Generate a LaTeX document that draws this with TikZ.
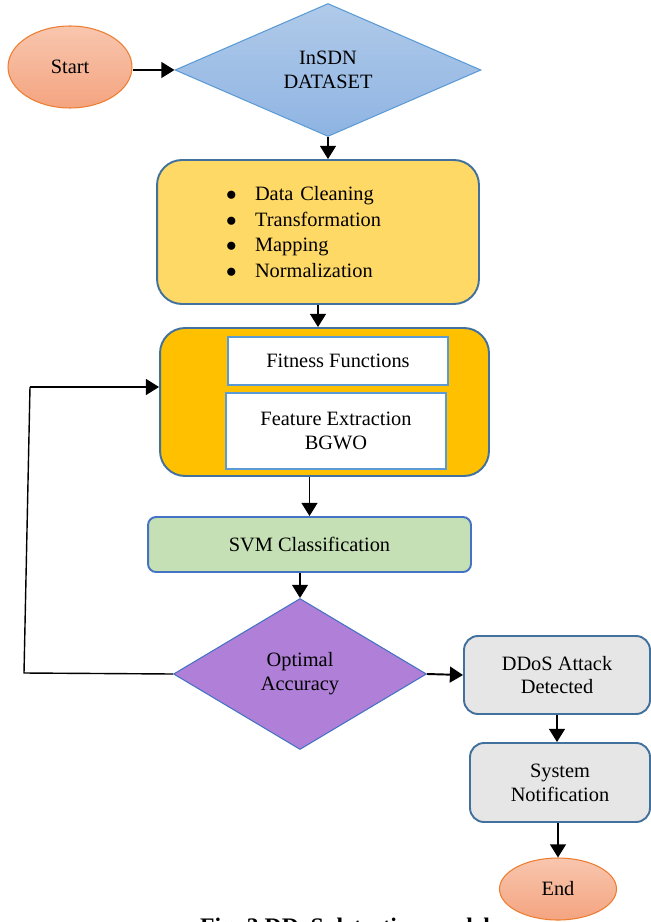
\documentclass[tikz,border=0pt]{standalone}
\usepackage{fontspec}
\setmainfont{Liberation Serif}
\usetikzlibrary{arrows.meta,shapes.geometric}
\definecolor{ddorange}{RGB}{237,125,49}
\definecolor{ddpeachtop}{RGB}{248,198,174}
\definecolor{ddpeachbot}{RGB}{244,164,128}
\definecolor{ddbluetop}{RGB}{176,202,233}
\definecolor{ddbluebot}{RGB}{143,180,227}
\definecolor{ddblueline}{RGB}{91,155,213}
\definecolor{ddframe}{RGB}{65,113,156}
\definecolor{ddyellow}{RGB}{255,217,102}
\definecolor{ddamber}{RGB}{255,192,0}
\definecolor{ddgreen}{RGB}{197,224,180}
\definecolor{ddroyal}{RGB}{68,114,196}
\definecolor{ddpurple}{RGB}{176,127,216}
\definecolor{ddgray}{RGB}{231,230,230}
\newcommand{\ddbul}{\hspace*{0.96cm}\makebox[0.58cm][l]{$\bullet$}}

\begin{document}
\begin{tikzpicture}[x=0.02cm, y=-0.02cm,
  font=\fontsize{11.6}{13.6}\selectfont,
  term/.style={ellipse, draw=ddorange, line width=0.6pt, top color=ddpeachtop, bottom color=ddpeachbot},
  decision/.style={diamond, line width=0.6pt, inner sep=0pt, align=center},
  procbox/.style={rectangle, draw=ddframe, line width=1.1pt, inner sep=0pt, align=center},
  innerbox/.style={rectangle, draw=ddblueline, line width=1.1pt, fill=white, inner sep=0pt, align=center},
  flow/.style={-{Triangle[length=7.5pt,width=9pt]}, line width=1.1pt},
]
\useasboundingbox (0,0) rectangle (650,922);
% Start and dataset
\node[term, minimum width=2.48cm, minimum height=1.64cm] (start) at (70,67) {Start};
\node[decision, draw=ddblueline, top color=ddbluetop, bottom color=ddbluebot,
      minimum width=6.12cm, minimum height=2.66cm] (data) at (328,70) {InSDN\\DATASET};
% Preprocessing
\node[procbox, fill=ddyellow, rounded corners=0.5cm, minimum width=6.44cm, minimum height=2.88cm,
      font=\fontsize{11.6}{14.7}\selectfont, text width=5.6cm, align=left] (prep) at (318,232)
  {\ddbul Data Cleaning\\
   \ddbul Transformation\\
   \ddbul Mapping\\
   \ddbul Normalization};
% Feature selection block
\node[procbox, fill=ddamber, rounded corners=0.5cm, minimum width=6.58cm, minimum height=2.96cm] (feat) at (324.5,402) {};
\node[innerbox, minimum width=4.4cm, minimum height=0.96cm] (fit) at (338,361) {Fitness Functions};
\node[innerbox, minimum width=4.4cm, minimum height=1.52cm] (bgwo) at (336,431) {Feature Extraction\\BGWO};
% Classification and decision
\node[procbox, draw=ddroyal, fill=ddgreen, rounded corners=0.16cm, minimum width=6.46cm, minimum height=1.1cm] (svm) at (309.5,544.5) {SVM Classification};
\node[decision, draw=ddroyal, fill=ddpurple, minimum width=5.06cm, minimum height=3.02cm] (acc) at (300,674) {Optimal\\Accuracy};
% Detection and end
\node[procbox, fill=ddgray, rounded corners=0.28cm, minimum width=3.72cm, minimum height=1.56cm] (ddos) at (557,675) {DDoS Attack\\Detected};
\node[procbox, fill=ddgray, rounded corners=0.28cm, minimum width=3.6cm, minimum height=1.58cm] (notif) at (560,782.5) {System\\Notification};
\node[term, minimum width=2.34cm, minimum height=1.24cm] (end) at (558,889) {End};
% Caption (cut by the page edge)
\node[font=\fontsize{13.5}{15}\selectfont\bfseries, anchor=base] (caption) at (345,934) {Fig. 3 DDoS detection model};
% Arrows
\draw[flow] (start.east |- data.west) -- (data.west);
\draw[flow] (data.south) -- (data.south |- prep.north);
\draw[flow] (prep.south) -- (prep.south |- feat.north);
\draw[flow] (svm.north |- feat.south) -- (svm.north);
\draw[flow] (acc.north |- svm.south) -- (acc.north);
\draw[flow] (acc.east) -- (ddos.west);
\draw[flow] (ddos.south) -- (ddos.south |- notif.north);
\draw[flow] (end.north |- notif.south) -- (end.north);
% Feedback loop
\coordinate (loopb) at (24,673);
\coordinate (loopt) at (30,387);
\draw[line width=0.8pt] (acc.west) -- (loopb) -- (loopt);
\draw[flow] (loopt) -- (loopt -| feat.west);
\end{tikzpicture}
\end{document}
